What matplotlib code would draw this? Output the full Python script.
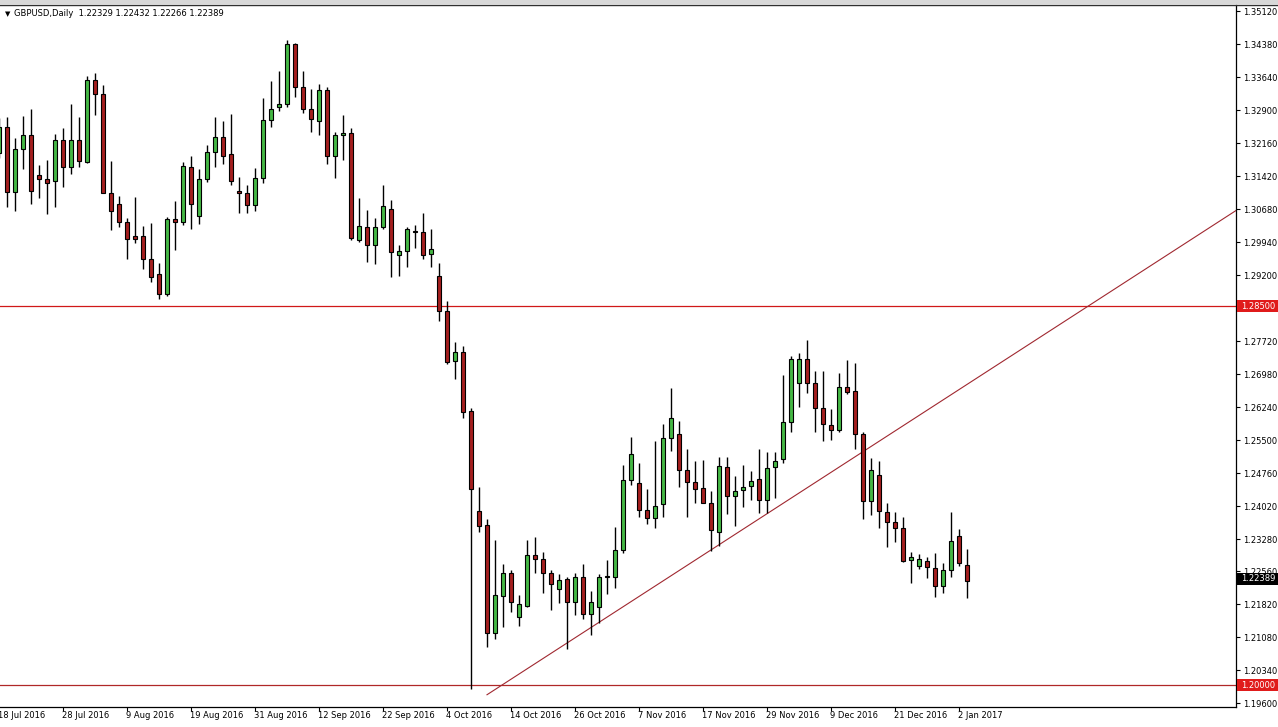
import matplotlib
matplotlib.use("Agg")
import matplotlib.pyplot as plt
import matplotlib.transforms as mtransforms
from matplotlib.patches import Rectangle
from matplotlib.lines import Line2D
import numpy as np

# GBPUSD daily candles, 18 Jul 2016 .. 3 Jan 2017 (one per trading day)
opens = [1.3193, 1.3253, 1.3107, 1.3202, 1.3233, 1.3144, 1.3135, 1.3131, 1.3223, 1.3162,
         1.3223, 1.3173, 1.3357, 1.3325, 1.3105, 1.3079, 1.3040, 1.3008, 1.3007, 1.2955,
         1.2922, 1.2877, 1.3045, 1.3040, 1.3163, 1.3052, 1.3135, 1.3197, 1.3230, 1.3191,
         1.3108, 1.3103, 1.3076, 1.3137, 1.3268, 1.3296, 1.3303, 1.3438, 1.3341, 1.3292,
         1.3265, 1.3334, 1.3188, 1.3234, 1.3238, 1.2999, 1.3027, 1.2987, 1.3027, 1.3067,
         1.2965, 1.2973, 1.3019, 1.3016, 1.2967, 1.2917, 1.2839, 1.2727, 1.2747, 1.2615,
         1.2391, 1.2359, 1.2118, 1.2201, 1.2253, 1.2153, 1.2179, 1.2292, 1.2283, 1.2251,
         1.2215, 1.2238, 1.2186, 1.2244, 1.2160, 1.2176, 1.2243, 1.2242, 1.2303, 1.2460,
         1.2453, 1.2393, 1.2375, 1.2406, 1.2555, 1.2564, 1.2484, 1.2456, 1.2442, 1.2410,
         1.2345, 1.2490, 1.2425, 1.2438, 1.2447, 1.2463, 1.2416, 1.2489, 1.2507, 1.2590,
         1.2677, 1.2731, 1.2679, 1.2623, 1.2583, 1.2573, 1.2668, 1.2660, 1.2563, 1.2414,
         1.2471, 1.2389, 1.2366, 1.2352, 1.2281, 1.2268, 1.2279, 1.2263, 1.2223, 1.2259,
         1.2336, 1.2271]
highs = [1.3272, 1.3274, 1.3227, 1.3277, 1.3292, 1.3167, 1.3178, 1.3236, 1.3249, 1.3303,
         1.3274, 1.3366, 1.3372, 1.3346, 1.3176, 1.3097, 1.3049, 1.3095, 1.3030, 1.3037,
         1.2946, 1.3051, 1.3086, 1.3173, 1.3187, 1.3157, 1.3212, 1.3274, 1.3265, 1.3280,
         1.3140, 1.3121, 1.3160, 1.3318, 1.3355, 1.3378, 1.3447, 1.3441, 1.3377, 1.3337,
         1.3348, 1.3341, 1.3241, 1.3279, 1.3250, 1.3093, 1.3066, 1.3047, 1.3122, 1.3088,
         1.2987, 1.3028, 1.3033, 1.3059, 1.3023, 1.2946, 1.2862, 1.2771, 1.2761, 1.2621,
         1.2444, 1.2374, 1.2326, 1.2272, 1.2259, 1.2203, 1.2326, 1.2333, 1.2298, 1.2259,
         1.2250, 1.2242, 1.2251, 1.2272, 1.2211, 1.2250, 1.2281, 1.2356, 1.2494, 1.2557,
         1.2499, 1.2440, 1.2547, 1.2586, 1.2667, 1.2593, 1.2529, 1.2503, 1.2505, 1.2436,
         1.2511, 1.2511, 1.2469, 1.2493, 1.2480, 1.2531, 1.2524, 1.2524, 1.2696, 1.2738,
         1.2745, 1.2774, 1.2705, 1.2705, 1.2620, 1.2700, 1.2729, 1.2722, 1.2568, 1.2509,
         1.2503, 1.2408, 1.2389, 1.2377, 1.2298, 1.2294, 1.2288, 1.2296, 1.2275, 1.2389,
         1.2351, 1.2306]
lows = [1.3182, 1.3073, 1.3064, 1.3157, 1.3079, 1.3093, 1.3056, 1.3072, 1.3117, 1.3147,
        1.3163, 1.3172, 1.3279, 1.3103, 1.3021, 1.3027, 1.2957, 1.2991, 1.2934, 1.2904,
        1.2866, 1.2873, 1.2976, 1.3032, 1.3023, 1.3034, 1.3128, 1.3162, 1.3170, 1.3123,
        1.3060, 1.3060, 1.3064, 1.3127, 1.3253, 1.3288, 1.3297, 1.3320, 1.3284, 1.3240,
        1.3235, 1.3168, 1.3138, 1.3179, 1.2998, 1.2995, 1.2949, 1.2945, 1.3024, 1.2915,
        1.2918, 1.2937, 1.2980, 1.2955, 1.2937, 1.2818, 1.2720, 1.2686, 1.2600, 1.1991,
        1.2343, 1.2087, 1.2103, 1.2131, 1.2164, 1.2134, 1.2175, 1.2251, 1.2208, 1.2170,
        1.2184, 1.2081, 1.2157, 1.2148, 1.2114, 1.2140, 1.2205, 1.2219, 1.2297, 1.2449,
        1.2378, 1.2361, 1.2352, 1.2377, 1.2525, 1.2444, 1.2378, 1.2408, 1.2408, 1.2302,
        1.2312, 1.2384, 1.2358, 1.2401, 1.2416, 1.2386, 1.2386, 1.2419, 1.2499, 1.2569,
        1.2625, 1.2656, 1.2569, 1.2549, 1.2550, 1.2567, 1.2653, 1.2529, 1.2374, 1.2381,
        1.2353, 1.2311, 1.2322, 1.2277, 1.2229, 1.2262, 1.2240, 1.2199, 1.2208, 1.2244,
        1.2268, 1.2197]
closes = [1.3253, 1.3107, 1.3203, 1.3233, 1.3109, 1.3136, 1.3127, 1.3223, 1.3162, 1.3223,
          1.3175, 1.3357, 1.3325, 1.3105, 1.3063, 1.3040, 1.3000, 1.3001, 1.2955, 1.2915,
          1.2877, 1.3045, 1.3040, 1.3164, 1.3079, 1.3135, 1.3197, 1.3230, 1.3188, 1.3132,
          1.3103, 1.3076, 1.3138, 1.3268, 1.3292, 1.3303, 1.3438, 1.3341, 1.3292, 1.3271,
          1.3334, 1.3188, 1.3233, 1.3238, 1.3002, 1.3030, 1.2987, 1.3027, 1.3075, 1.2971,
          1.2973, 1.3023, 1.3016, 1.2966, 1.2978, 1.2839, 1.2726, 1.2747, 1.2614, 1.2440,
          1.2358, 1.2118, 1.2203, 1.2253, 1.2188, 1.2182, 1.2292, 1.2283, 1.2251, 1.2227,
          1.2236, 1.2186, 1.2244, 1.2160, 1.2186, 1.2242, 1.2244, 1.2303, 1.2460, 1.2518,
          1.2393, 1.2375, 1.2403, 1.2555, 1.2599, 1.2484, 1.2456, 1.2440, 1.2410, 1.2348,
          1.2491, 1.2425, 1.2435, 1.2445, 1.2459, 1.2416, 1.2488, 1.2504, 1.2590, 1.2731,
          1.2731, 1.2677, 1.2623, 1.2585, 1.2573, 1.2668, 1.2658, 1.2563, 1.2414, 1.2482,
          1.2392, 1.2366, 1.2352, 1.2279, 1.2287, 1.2283, 1.2265, 1.2223, 1.2259, 1.2324,
          1.2274, 1.2235]

date_labels = ["18 Jul 2016", "28 Jul 2016", "9 Aug 2016", "19 Aug 2016", "31 Aug 2016",
               "12 Sep 2016", "22 Sep 2016", "4 Oct 2016", "14 Oct 2016", "26 Oct 2016",
               "7 Nov 2016", "17 Nov 2016", "29 Nov 2016", "9 Dec 2016", "21 Dec 2016",
               "2 Jan 2017"]
date_label_bars = [0, 8, 16, 24, 32, 40, 48, 56, 64, 72, 80, 88, 96, 104, 112, 120]

price_ticks = [1.35120, 1.34380, 1.33640, 1.32900, 1.32160, 1.31420, 1.30680, 1.29940,
               1.29200, 1.27720, 1.26980, 1.26240, 1.25500, 1.24760, 1.24020, 1.23280,
               1.22560, 1.21820, 1.21080, 1.20340, 1.19600]

support_level = 1.20000
resistance_level = 1.28500
last_price = 1.22389
title_text = "GBPUSD,Daily  1.22329 1.22432 1.22266 1.22389"

# trend line anchors (bar index, price)
trend_start = (61, 1.1979)
trend_end = (108, 1.2524)

W, H = 1278, 727
BULL = '#45b845'
BEAR = '#a51f1f'
FS = 6

fig = plt.figure(figsize=(W / 100, H / 100), dpi=100)
fig.patch.set_facecolor('white')
ax = fig.add_axes([0, 20 / H, 1236 / W, 702 / H])

o = np.array(opens)
h = np.array(highs)
l = np.array(lows)
c = np.array(closes)
x = np.arange(len(o))
up = c >= o

# wicks
ax.vlines(x, l, h, color='black', linewidth=1.0, zorder=2)
# bodies
body_lo = np.minimum(o, c)
body_h = np.maximum(np.abs(c - o), 0.00022)
ax.bar(x[up], body_h[up], bottom=body_lo[up], width=0.62, color=BULL,
       edgecolor='black', linewidth=0.8, zorder=3)
ax.bar(x[~up], body_h[~up], bottom=body_lo[~up], width=0.62, color=BEAR,
       edgecolor='black', linewidth=0.8, zorder=3)

# horizontal levels and trend line
ax.axhline(resistance_level, color='#d01818', linewidth=0.9, zorder=1)
ax.axhline(support_level, color='#b02828', linewidth=0.9, zorder=1)
slope = (trend_end[1] - trend_start[1]) / (trend_end[0] - trend_start[0])
tx = np.array([trend_start[0], 170])
ax.plot(tx, trend_start[1] + slope * (tx - trend_start[0]), color='#a02830',
        linewidth=0.8, zorder=1)

ax.set_xlim(0.125, 154.625)
ax.set_ylim(1.19515, 1.35255)

# axes frame like MT4
ax.spines['left'].set_visible(False)
ax.spines['top'].set_visible(False)
ax.spines['right'].set_linewidth(0.9)
ax.spines['bottom'].set_linewidth(0.9)

ax.yaxis.tick_right()
ax.set_yticks(price_ticks)
ax.set_yticklabels(['%.5f' % p for p in price_ticks])
ax.tick_params(axis='y', direction='out', length=3, width=0.8, pad=2, labelsize=FS)

ax.set_xticks([b for b in date_label_bars if b > 0])
ax.set_xticklabels([])
ax.tick_params(axis='x', direction='out', length=3, width=0.8)
for b, lab in zip(date_label_bars, date_labels):
    ax.text(b - 0.1, -0.006, lab, transform=mtransforms.blended_transform_factory(ax.transData, ax.transAxes),
            ha='left', va='top', fontsize=FS, clip_on=False)

# price boxes on the right axis
blend = mtransforms.blended_transform_factory(fig.transFigure, ax.transData)
box_h = 12 / 4460
for price, color in [(resistance_level, '#e01b1b'), (support_level, '#e01b1b'), (last_price, 'black')]:
    fig.patches.append(Rectangle((1237 / W, price - box_h / 2), 41 / W, box_h,
                                 transform=blend, facecolor=color, edgecolor='none', zorder=5))
    fig.text(1241 / W, price, '%.5f' % price, transform=blend, color='white',
             fontsize=FS, va='center', ha='left', zorder=6)

# top border and chart title
fig.patches.append(Rectangle((0, 1 - 4 / H), 1, 4 / H, transform=fig.transFigure,
                             facecolor='#d8d8d8', edgecolor='none'))
fig.lines.append(Line2D([0, 1], [1 - 5 / H, 1 - 5 / H], transform=fig.transFigure,
                        color='#303030', linewidth=1.0))
fig.text(5 / W, 1 - 14 / H, '\u25bc', fontsize=5, va='center', ha='left')
fig.text(14 / W, 1 - 14 / H, title_text, fontsize=FS, va='center', ha='left')

fig.savefig('out.png', dpi=100)
